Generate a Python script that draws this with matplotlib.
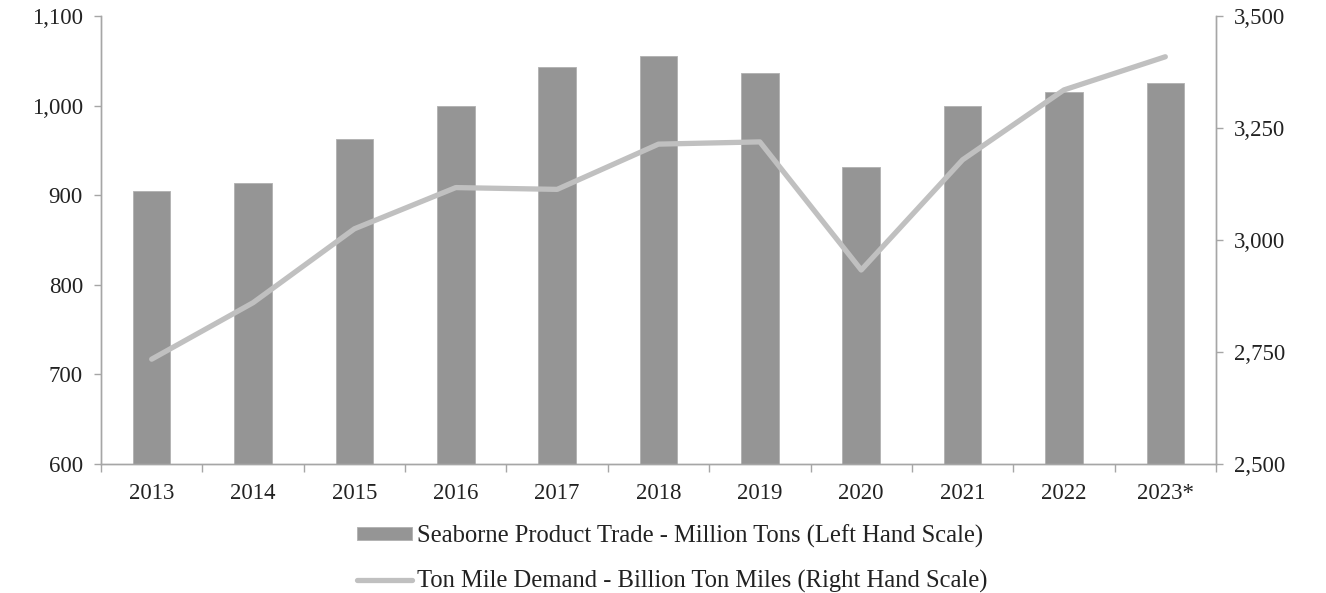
import matplotlib.pyplot as plt
import numpy as np

years = ['2013', '2014', '2015', '2016', '2017', '2018', '2019', '2020', '2021', '2022', '2023*']
trade_mt = [905, 914, 963, 1000, 1043, 1055, 1036, 931, 1000, 1015, 1025]
ton_miles = [2734, 2860, 3025, 3117, 3113, 3214, 3219, 2933, 3179, 3335, 3409]

left_ticks = [600, 700, 800, 900, 1000, 1100]
right_ticks = [2500, 2750, 3000, 3250, 3500]

plt.rcParams['font.family'] = ['Liberation Serif', 'DejaVu Serif']
plt.rcParams['font.size'] = 16.5

spine_col = '#a6a6a6'
text_col = '#222222'

fig = plt.figure(figsize=(13.26, 5.93), dpi=100)
ax = fig.add_axes([101 / 1326, 1 - 464 / 593, (1216 - 101) / 1326, (464 - 16) / 593])
ax2 = ax.twinx()

x = np.arange(len(years))
bars = ax.bar(x, trade_mt, width=0.37, color='#959595', edgecolor='#b0b0b0', linewidth=0.6,
              label='Seaborne Product Trade - Million Tons (Left Hand Scale)', zorder=2)
line, = ax2.plot(x, ton_miles, color='#c0c0c0', linewidth=3.8, solid_capstyle='round',
                 solid_joinstyle='round', label='Ton Mile Demand - Billion Ton Miles (Right Hand Scale)')

ax.set_xlim(-0.5, len(years) - 0.5)
ax.set_ylim(600, 1100)
ax.set_yticks(left_ticks)
ax.set_yticklabels([f'{v:,}' for v in left_ticks])
ax2.set_ylim(2500, 3500)
ax2.set_yticks(right_ticks)
ax2.set_yticklabels([f'{v:,}' for v in right_ticks])

# category labels centred, tick marks on the boundaries
ax.set_xticks(x)
ax.set_xticklabels(years)
ax.set_xticks(np.arange(-0.5, len(years)), minor=True)
ax.tick_params(axis='x', which='major', length=0, pad=14, colors=text_col)
ax.tick_params(axis='x', which='minor', length=6, color=spine_col, width=1)
ax.tick_params(axis='y', length=5, color=spine_col, width=1, labelcolor=text_col, pad=8)
ax2.tick_params(axis='y', length=5, color=spine_col, width=1, labelcolor=text_col, pad=8)

for a in (ax, ax2):
    a.spines['top'].set_visible(False)
    for s in ('left', 'right', 'bottom'):
        a.spines[s].set_color(spine_col)
        a.spines[s].set_linewidth(1)

fig.legend([bars, line], [bars.get_label(), line.get_label()], loc='upper center',
           bbox_to_anchor=(0.507, 1 - 512 / 593), frameon=False, ncol=1,
           handlelength=2.25, handleheight=0.45, handletextpad=0.2, labelspacing=0.92,
           fontsize=17.7, labelcolor=text_col, borderpad=0)

fig.savefig('out.png', dpi=100)
